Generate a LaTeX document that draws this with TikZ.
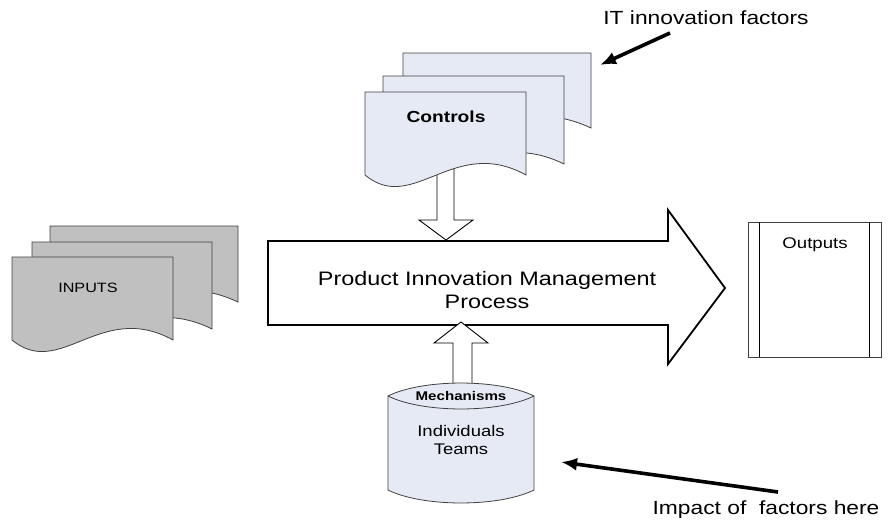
\documentclass[tikz,border=0pt]{standalone}
\usepackage{fontspec}
\setmainfont{Liberation Sans}[FakeStretch=1.2]
\usetikzlibrary{arrows.meta}
\definecolor{docgray}{HTML}{C0C0C0}
\definecolor{lightblue}{HTML}{E6EAF5}
\definecolor{edgegray}{HTML}{404040}
\newcommand\docpath[4]{% x0 x1 top yb
  (#1,#3) -- (#2,#3) -- (#2,#4)
  .. controls ({#1+0.55*(#2-#1)},{#4-40}) and ({#1+0.3*(#2-#1)},{#4+40}) .. (#1,#4) -- cycle}
\tikzset{
  docshape/.style={draw=edgegray, line width=0.8pt},
  blockarrow/.style={draw=black, fill=white, line width=0.9pt, line join=miter},
  bigarrowline/.style={draw=black, fill=white, line width=1.8pt, line join=miter},
  pointer/.style={line width=3.6pt, -{Latex[length=16pt,width=13pt]}},
  lbl/.style={inner sep=0pt, align=center},
}
\begin{document}
\begin{tikzpicture}[x=1pt,y=-1pt]
\useasboundingbox (0,0) rectangle (892,523);
% big process arrow
\path[bigarrowline] (268,241) -- (668,241) -- (668,210) -- (725,288) -- (668,364) -- (668,325) -- (268,325) -- cycle;
\node[lbl, font=\fontsize{19.5}{23.4}\selectfont] (process) at (487,290) {Product Innovation Management\\Process};
% controls down arrow
\path[blockarrow] (437,165) -- (454,165) -- (454,220) -- (473,220) -- (446,240) -- (419,220) -- (437,220) -- cycle;
% controls documents
\path[docshape, fill=lightblue] \docpath{403}{591}{53}{128};
\path[docshape, fill=lightblue] \docpath{383}{564}{76}{164};
\path[docshape, fill=lightblue] \docpath{365}{526}{92}{175};
\node[lbl, font=\fontsize{16}{19}\selectfont\bfseries] (controls) at (446,117) {Controls};
% inputs documents
\path[docshape, fill=docgray] \docpath{50}{238}{226}{302};
\path[docshape, fill=docgray] \docpath{32}{212}{242}{329};
\path[docshape, fill=docgray] \docpath{12}{173}{257}{340};
\node[lbl, font=\fontsize{13.5}{16}\selectfont] (inputs) at (88,288) {INPUTS};
% mechanisms up arrow
\path[blockarrow] (453,392) -- (472,392) -- (472,343) -- (488,343) -- (461,322) -- (434,343) -- (453,343) -- cycle;
% cylinder
\path[docshape, fill=lightblue] (388,396) .. controls (423,378.7) and (499,378.7) .. (534,396)
  -- (534,490) .. controls (499,507.3) and (423,507.3) .. (388,490) -- cycle;
\draw[edgegray, line width=0.8pt] (388,396) .. controls (423,413.3) and (499,413.3) .. (534,396);
\node[lbl, font=\fontsize{12.6}{15}\selectfont\bfseries] (mech) at (461,396) {Mechanisms};
\node[lbl, font=\fontsize{15.4}{17.5}\selectfont] (indiv) at (461,440) {Individuals\\Teams};
% outputs box
\draw[edgegray, line width=0.8pt] (748,222) rectangle (881,357);
\draw[black, line width=0.8pt] (759,222) -- (759,357) (869,222) -- (869,357);
\node[lbl, font=\fontsize{15.5}{18}\selectfont] (outputs) at (815,245) {Outputs};
% labels and pointers
\node[lbl, font=\fontsize{19}{23}\selectfont] (itlabel) at (706,18) {IT innovation factors};
\node[lbl, font=\fontsize{19}{23}\selectfont] (impact) at (766,510) {Impact of\ \ factors here};
\coordinate (ittail) at (670,33);
\coordinate (ittip) at (600,65);
\coordinate (imtail) at (778,492);
\coordinate (imtip) at (561,462);
\draw[pointer] (ittail) -- (ittip);
\draw[pointer] (imtail) -- (imtip);
\end{tikzpicture}
\end{document}
